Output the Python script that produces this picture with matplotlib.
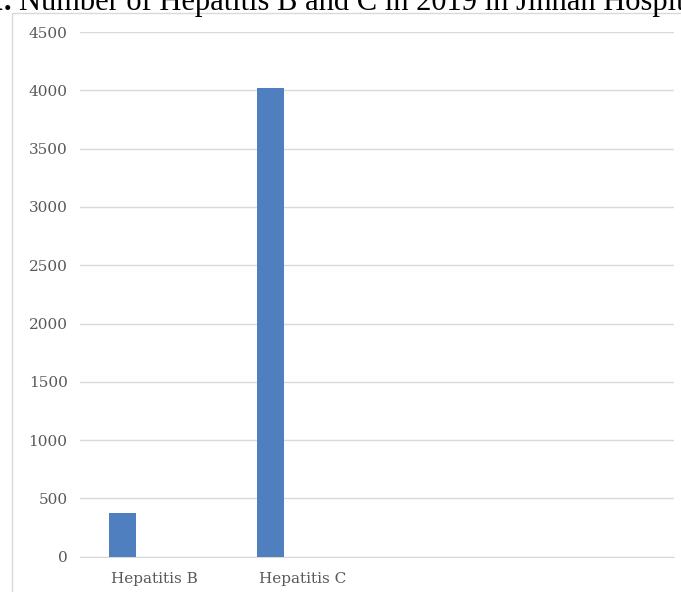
import matplotlib.pyplot as plt
import matplotlib.patches as patches
import numpy as np

categories = ["Hepatitis B", "Hepatitis C", "", ""]
cases = [375, 4020, 0, 0]
y_ticks = [0, 500, 1000, 1500, 2000, 2500, 3000, 3500, 4000, 4500]

fig = plt.figure(figsize=(6.81, 5.92), dpi=100)
ax = fig.add_axes([0.1175, 0.0596, 0.872, 0.8863])

# chart border (cut off on the right and bottom in the original)
fig.patches.append(patches.Rectangle((12 / 681, -0.05), 1.0, 0.978 + 0.05,
                                     transform=fig.transFigure, fill=False,
                                     edgecolor='#D9D9D9', linewidth=1.0))

x = np.arange(len(categories))
ax.bar(x - 0.215, cases, width=0.18, color='#4F7FBF', zorder=3)

ax.set_xlim(-0.5, len(categories) - 0.5)
ax.set_ylim(0, 4500)
ax.set_yticks(y_ticks)
ax.set_xticks(x)
ax.set_xticklabels(categories)

ax.grid(axis='y', color='#D9D9D9', linewidth=1.0, zorder=0)
for s in ['top', 'right', 'left']:
    ax.spines[s].set_visible(False)
ax.spines['bottom'].set_color('#D9D9D9')
ax.tick_params(length=0, labelcolor='#595959', labelsize=11)
ax.tick_params(axis='y', pad=9)
ax.tick_params(axis='x', pad=11)
for lab in ax.get_xticklabels() + ax.get_yticklabels():
    lab.set_family('DejaVu Serif')

# figure caption, clipped at the top edge like the source
fig.text(12 / 681, 582 / 592, "Figure 1.", ha='right', va='baseline',
         fontsize=22, fontweight='bold', family='Liberation Serif')
fig.text(19 / 681, 582 / 592, "Number of Hepatitis B and C in 2019 in Jinnah Hospital",
         ha='left', va='baseline', fontsize=22, family='Liberation Serif')

fig.savefig('out.png', dpi=100)
